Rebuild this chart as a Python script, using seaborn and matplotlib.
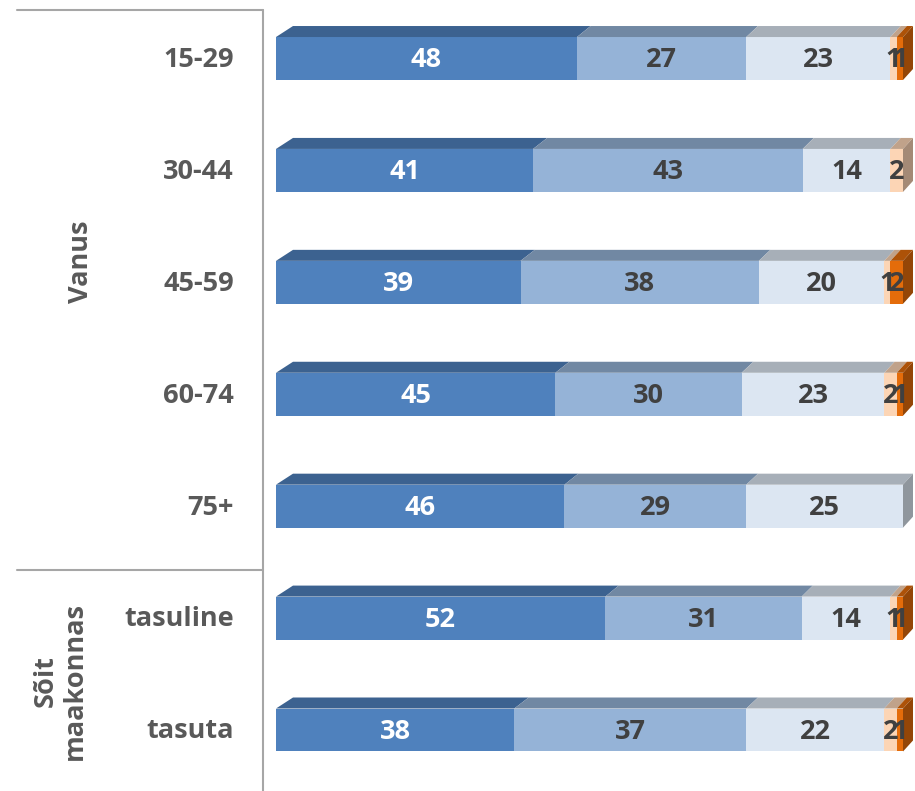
import matplotlib

matplotlib.use("Agg")
import matplotlib.pyplot as plt
from matplotlib.lines import Line2D
from matplotlib.colors import to_rgb
import numpy as np
import seaborn as sns

categories = ["15-29", "30-44", "45-59", "60-74", "75+", "tasuline", "tasuta"]
series_a = [48, 41, 39, 45, 46, 52, 38]
series_b = [27, 43, 38, 30, 29, 31, 37]
series_c = [23, 14, 20, 23, 25, 14, 22]
series_d = [1, 2, 1, 2, 0, 1, 2]
series_e = [1, 0, 2, 1, 0, 1, 1]
groups = [("Vanus", 0, 4), ("Sõit\nmaakonnas", 5, 6)]

colors = ["#4F81BD", "#95B3D7", "#DCE6F2", "#FCD5B5", "#E46C0A"]
label_colors = ["white", "#404040", "#404040", "#404040", "#404040"]

W, H = 915, 791
sns.set_style("white")
plt.rcParams["font.family"] = ["Open Sans", "DejaVu Sans"]
FS = 19.5

values = np.array([series_a, series_b, series_c, series_d, series_e], dtype=float)
shares = values / values.sum(axis=0) * 100
cum = np.cumsum(shares, axis=0)
starts = cum - shares

fig = plt.figure(figsize=(W / 100, H / 100), dpi=100)
px = 6.27  # pixels per percent
ax = fig.add_axes([276 / W, 0, 1 - 276 / W, 1])

# front faces: draw cumulative totals from the longest down
for k in range(len(colors) - 1, -1, -1):
    sns.barplot(x=cum[k], y=categories, orient="h", color=colors[k],
                saturation=1, width=0.384, linewidth=0, ax=ax, zorder=2)

spacing = 111.9
ax.set_xlim(0, (W - 276) / px)
ax.set_ylim(6 + (H - 730) / spacing, -58.5 / spacing)
ax.axis("off")

half = 0.384 / 2
dy = 11 / spacing


def dx(v):
    return (17 - 7 * v / 100) / px


def shade(c, f):
    r, g, b = to_rgb(c)
    return (r * f, g * f, b * f)


for i in range(len(categories)):
    top = i - half
    last = None
    for k in range(len(colors)):
        if values[k, i] <= 0:
            continue
        x0, x1 = starts[k, i], cum[k, i]
        ax.fill([x0, x1, x1 + dx(x1), x0 + dx(x0)], [top, top, top - dy, top - dy],
                color=shade(colors[k], 0.76), lw=0, zorder=3)
        last = k
    xe = cum[last, i]
    ax.fill([xe, xe, xe + dx(xe), xe + dx(xe)], [i + half, top, top - dy, i + half - dy],
            color=shade(colors[last], 0.65), lw=0, zorder=3)
    for k in range(len(colors)):
        if values[k, i] <= 0:
            continue
        ax.text((starts[k, i] + cum[k, i]) / 2, i + 0.015, f"{int(values[k, i])}",
                ha="center", va="center", fontsize=FS, fontweight="bold",
                color=label_colors[k], zorder=4)

# category labels and group labels on the left
for i, cat in enumerate(categories):
    ypix = 60 + i * spacing
    fig.text(234 / W, 1 - ypix / H, cat, ha="right", va="center", fontsize=FS,
             fontweight="bold", color="#595959")

fig.text(81 / W, 1 - 262 / H, groups[0][0], ha="center", va="center", rotation=90,
         fontsize=FS, fontweight="bold", color="#595959")
fig.text(60 / W, 1 - 681 / H, groups[1][0], ha="center", va="center", rotation=90,
         fontsize=FS, fontweight="bold", color="#595959", multialignment="center",
         linespacing=1.15)

line_kw = dict(color="#A6A6A6", lw=1.5)
fig.add_artist(Line2D([263 / W, 263 / W], [1 - 10 / H, 0], **line_kw))
fig.add_artist(Line2D([17 / W, 263 / W], [1 - 10 / H, 1 - 10 / H], **line_kw))
fig.add_artist(Line2D([17 / W, 263 / W], [1 - 570 / H, 1 - 570 / H], **line_kw))

fig.savefig("out.png", dpi=100)
